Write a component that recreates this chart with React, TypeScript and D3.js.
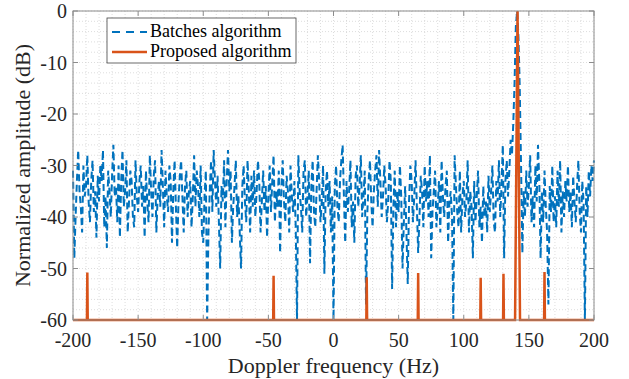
import * as d3 from "d3";

const width = 629;
const height = 379;
const margin = { top: 11, right: 35, bottom: 59, left: 73 };

// Batches algorithm, 1 Hz step starting at -200 Hz (dB)
const batchStart = -200;
const batches = [
  -31, -48, -40, -33, -27, -35, -38, -43, -30, -36,
  -34, -28, -37, -41, -33, -29, -39, -35, -44, -32,
  -37, -30, -33, -27, -42, -36, -46, -31, -35, -40,
  -32, -26, -36, -34, -41, -30, -44, -33, -27, -38,
  -35, -29, -43, -37, -31, -33, -40, -42, -29, -36,
  -39, -33, -30, -38, -34, -44, -31, -37, -41, -28,
  -35, -40, -32, -29, -43, -36, -33, -38, -27, -34,
  -42, -31, -36, -39, -30, -33, -45, -35, -29, -38,
  -46, -37, -32, -29, -36, -43, -34, -31, -40, -35,
  -33, -42, -36, -28, -38, -31, -34, -40, -30, -43,
  -45, -36, -31, -60, -43, -35, -29, -39, -27, -33,
  -38, -32, -41, -50, -34, -37, -29, -42, -33, -27,
  -35, -31, -45, -38, -34, -29, -40, -36, -43, -50,
  -34, -30, -37, -41, -29, -35, -43, -32, -38, -31,
  -40, -35, -29, -33, -43, -37, -31, -39, -34, -44,
  -36, -30, -39, -33, -28, -41, -35, -38, -31, -47,
  -34, -29, -37, -41, -32, -35, -43, -30, -36, -39,
  -33, -42, -60, -28, -35, -38, -43, -31, -29, -40,
  -36, -31, -49, -34, -29, -39, -42, -35, -28, -33,
  -41, -37, -30, -51, -35, -31, -38, -33, -43, -36,
  -60, -34, -30, -38, -41, -33, -29, -26, -36, -45,
  -33, -39, -35, -29, -42, -37, -45, -32, -30, -38,
  -34, -28, -40, -36, -31, -57, -39, -33, -29, -37,
  -42, -35, -31, -28, -38, -27, -33, -40, -36, -30,
  -34, -41, -37, -29, -33, -54, -38, -31, -42, -35,
  -39, -30, -36, -50, -41, -34, -43, -53, -37, -30,
  -33, -41, -36, -29, -38, -47, -40, -32, -35, -42,
  -30, -37, -33, -40, -28, -48, -39, -35, -31, -42,
  -38, -33, -43, -29, -36, -40, -34, -31, -45, -37,
  -35, -40, -60, -28, -34, -39, -42, -31, -43, -36,
  -33, -40, -37, -29, -43, -35, -38, -48, -33, -41,
  -36, -31, -42, -38, -45, -34, -40, -37, -43, -32,
  -39, -35, -30, -41, -43, -33, -37, -29, -40, -34,
  -26, -48, -33, -29, -36, -31, -25, -28, -22, -14,
  -3, 0, -5, -15, -30, -47, -35, -40, -31, -38,
  -34, -28, -41, -36, -42, -30, -37, -26, -33, -48,
  -35, -41, -31, -38, -43, -57, -34, -39, -30, -41,
  -36, -42, -31, -38, -29, -43, -35, -40, -33, -37,
  -30, -39, -35, -42, -32, -37, -41, -34, -29, -39,
  -43, -33, -37, -60, -34, -40, -31, -36, -30, -33,
  -29,
];

// Proposed algorithm: floor at -60 dB with narrow spikes
const floorLevel = -60;
const spikeFreq = [-189, -46, 25.5, 65, 113, 130.5, 141.3, 162];
const spikeLevel = [-50.8, -51.4, -51.7, -50.9, -51.8, -51, 0, -50.7];
const spikeHalfWidth = [0.3, 0.3, 0.3, 0.3, 0.3, 0.3, 1.9, 0.3];

const xTicks = [-200, -150, -100, -50, 0, 50, 100, 150, 200];
const yTicks = [-60, -50, -40, -30, -20, -10, 0];
const xMinor = d3.range(-200, 201, 10);
const yMinor = d3.range(-60, 1, 2);

const blue = "#0072BD";
const orange = "#D95319";
const font = "'Times New Roman', 'Liberation Serif', serif";

export default function App() {
  const x = d3
    .scaleLinear()
    .domain([-200, 200])
    .range([margin.left, width - margin.right]);
  const y = d3
    .scaleLinear()
    .domain([-60, 0])
    .range([height - margin.bottom, margin.top]);

  const batchPts: [number, number][] = batches.map((v, i) => [batchStart + i, v]);

  const proposedPts: [number, number][] = [[-200, floorLevel]];
  spikeFreq.forEach((f, i) => {
    proposedPts.push([f - spikeHalfWidth[i], floorLevel]);
    proposedPts.push([f, spikeLevel[i]]);
    proposedPts.push([f + spikeHalfWidth[i], floorLevel]);
  });
  proposedPts.push([200, floorLevel]);

  const line = d3
    .line<[number, number]>()
    .x((d) => x(d[0]))
    .y((d) => y(d[1]));

  const [x0, x1] = x.range();
  const [y0, y1] = y.range();
  const axisColor = "#8c8c8c";
  const textColor = "#262626";

  return (
    <div style={{ position: "absolute", left: 0, top: 0 }}>
      <svg
        width={width}
        height={height}
        style={{ display: "block", background: "#fff", fontFamily: font }}
      >
        {/* grid */}
        <g stroke="#cfcfcf" strokeWidth={0.7} strokeDasharray="1 2">
          {xMinor.map((t) => (
            <line key={"gx" + t} x1={x(t)} x2={x(t)} y1={y1} y2={y0} />
          ))}
          {yMinor.map((t) => (
            <line key={"gy" + t} x1={x0} x2={x1} y1={y(t)} y2={y(t)} />
          ))}
        </g>

        {/* series */}
        <path d={line(batchPts) ?? ""} fill="none" stroke={blue} strokeWidth={2} strokeDasharray="7 4" />
        <path d={line(proposedPts) ?? ""} fill="none" stroke={orange} strokeWidth={2.5} />

        {/* box + ticks */}
        <rect x={x0} y={y1} width={x1 - x0} height={y0 - y1} fill="none" stroke={axisColor} strokeWidth={1} />
        <g stroke={axisColor} strokeWidth={1}>
          {xTicks.map((t) => (
            <g key={"tx" + t}>
              <line x1={x(t)} x2={x(t)} y1={y0} y2={y0 - 5} />
              <line x1={x(t)} x2={x(t)} y1={y1} y2={y1 + 5} />
            </g>
          ))}
          {yTicks.map((t) => (
            <g key={"ty" + t}>
              <line x1={x0} x2={x0 + 5} y1={y(t)} y2={y(t)} />
              <line x1={x1} x2={x1 - 5} y1={y(t)} y2={y(t)} />
            </g>
          ))}
        </g>

        {/* tick labels */}
        <g fontSize={20} fill={textColor}>
          {xTicks.map((t) => (
            <text key={"lx" + t} x={x(t)} y={y0 + 27} textAnchor="middle">
              {t}
            </text>
          ))}
          {yTicks.map((t) => (
            <text key={"ly" + t} x={x0 - 6} y={y(t) + 7} textAnchor="end">
              {t}
            </text>
          ))}
        </g>

        {/* axis titles */}
        <text x={(x0 + x1) / 2} y={y0 + 53} textAnchor="middle" fontSize={22} fill={textColor}>
          Doppler frequency (Hz)
        </text>
        <text
          transform={`translate(${25}, ${(y0 + y1) / 2}) rotate(-90)`}
          textAnchor="middle"
          dominantBaseline="middle"
          fontSize={22}
          fill={textColor}
        >
          Normalized amplitude (dB)
        </text>

        {/* legend */}
        <g>
          <rect x={107} y={18} width={189} height={45} fill="#fff" stroke="#444" strokeWidth={0.8} />
          <line x1={112} x2={147} y1={32} y2={32} stroke={blue} strokeWidth={2} strokeDasharray="8 6" />
          <line x1={112} x2={147} y1={52} y2={52} stroke={orange} strokeWidth={2.5} />
          <text x={150} y={37} fontSize={18} fill="#000">
            Batches algorithm
          </text>
          <text x={150} y={57} fontSize={18} fill="#000">
            Proposed algorithm
          </text>
        </g>
      </svg>
    </div>
  );
}
